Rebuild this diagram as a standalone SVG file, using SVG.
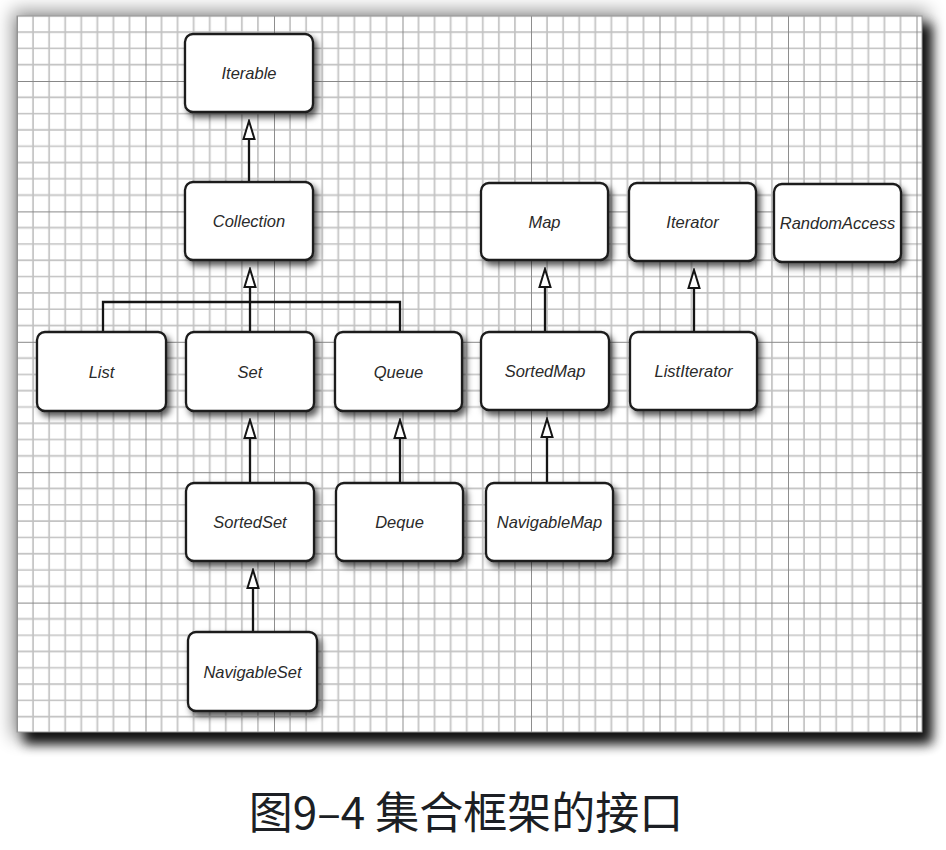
<svg xmlns="http://www.w3.org/2000/svg" width="946" height="850" viewBox="0 0 946 850">
  <defs>
    <style>
      .node rect { fill: #ffffff; stroke: #1a1a1a; stroke-width: 2.3; filter: url(#nodeShadow); }
      .node text { font-family: "Liberation Sans", Arial, sans-serif; font-style: italic; font-size: 16.5px; fill: #2a2a2a; text-anchor: middle; }
      .conn { stroke: #151515; stroke-width: 2.3; fill: none; }
      .arrow { stroke: #151515; stroke-width: 2.3; fill: none; marker-end: url(#hollow); }
      .minor { stroke: #c2c2c2; stroke-width: 1.7; }
      .major { stroke: #888888; stroke-width: 1.9; }
      .caption { font-family: "Noto Sans CJK SC", "Noto Sans", sans-serif; font-size: 44px; fill: #1c1f24; text-anchor: middle; }
    </style>
    <filter id="nodeShadow" x="-20%" y="-20%" width="150%" height="160%">
      <feDropShadow dx="3.5" dy="4.5" stdDeviation="3" flood-color="#000" flood-opacity="0.65"/>
    </filter>
    <filter id="paperBlur" x="-10%" y="-10%" width="120%" height="120%">
      <feGaussianBlur stdDeviation="6"/>
    </filter>
    <filter id="paperHalo" x="-10%" y="-10%" width="120%" height="120%">
      <feGaussianBlur stdDeviation="9"/>
    </filter>
    <pattern id="grid" patternUnits="userSpaceOnUse" x="17" y="81" width="128.5" height="130.4">
      <rect width="128.5" height="130.4" fill="#ffffff"/>
      <g class="minor">
        <line x1="16.06" y1="0" x2="16.06" y2="130.4"/>
        <line x1="32.12" y1="0" x2="32.12" y2="130.4"/>
        <line x1="48.19" y1="0" x2="48.19" y2="130.4"/>
        <line x1="64.25" y1="0" x2="64.25" y2="130.4"/>
        <line x1="80.31" y1="0" x2="80.31" y2="130.4"/>
        <line x1="96.37" y1="0" x2="96.37" y2="130.4"/>
        <line x1="112.44" y1="0" x2="112.44" y2="130.4"/>
        <line x1="0" y1="16.3" x2="128.5" y2="16.3"/>
        <line x1="0" y1="32.6" x2="128.5" y2="32.6"/>
        <line x1="0" y1="48.9" x2="128.5" y2="48.9"/>
        <line x1="0" y1="65.2" x2="128.5" y2="65.2"/>
        <line x1="0" y1="81.5" x2="128.5" y2="81.5"/>
        <line x1="0" y1="97.8" x2="128.5" y2="97.8"/>
        <line x1="0" y1="114.1" x2="128.5" y2="114.1"/>
      </g>
      <g class="major">
        <line x1="0" y1="0" x2="0" y2="130.4"/>
        <line x1="0" y1="0" x2="128.5" y2="0"/>
      </g>
    </pattern>
    <marker id="hollow" viewBox="-2 -8 22 16" markerWidth="22" markerHeight="16" refX="0" refY="0" orient="auto" markerUnits="userSpaceOnUse">
      <path d="M0,-5.5 L18,0 L0,5.5 Z" fill="#ffffff" stroke="#151515" stroke-width="2" stroke-linejoin="miter"/>
    </marker>
  </defs>

  <rect width="946" height="850" fill="#ffffff"/>

  <g id="paper">
    <rect x="12" y="10" width="916" height="728" fill="#000" opacity="0.4" filter="url(#paperHalo)"/>
    <rect x="24" y="24" width="908" height="720" fill="#000" opacity="0.9" filter="url(#paperBlur)"/>
    <rect x="17" y="16" width="905" height="716" fill="url(#grid)"/>
    <rect x="17" y="16" width="905" height="716" fill="none" stroke="#9a9a9a" stroke-width="1"/>
  </g>

  <g id="connectors">
    <line class="arrow" x1="249" y1="182" x2="249" y2="139"/>
    <polyline class="conn" points="103,332 103,302 400,302 400,332"/>
    <line class="arrow" x1="250" y1="332" x2="250" y2="287"/>
    <line class="arrow" x1="545" y1="332" x2="545" y2="287"/>
    <line class="arrow" x1="694" y1="332" x2="694" y2="288"/>
    <line class="arrow" x1="250" y1="483" x2="250" y2="438"/>
    <line class="arrow" x1="400" y1="483" x2="400" y2="438"/>
    <line class="arrow" x1="547" y1="483" x2="547" y2="437"/>
    <line class="arrow" x1="253" y1="632" x2="253" y2="588"/>
  </g>

  <g id="Iterable" class="node"><rect x="185" y="34" width="128" height="78" rx="8"/><text x="249" y="79">Iterable</text></g>
  <g id="Collection" class="node"><rect x="185" y="182" width="128" height="78" rx="8"/><text x="249" y="227">Collection</text></g>
  <g id="Map" class="node"><rect x="481" y="183" width="127" height="77" rx="8"/><text x="544.5" y="227.5">Map</text></g>
  <g id="Iterator" class="node"><rect x="629" y="183" width="127" height="78" rx="8"/><text x="692.5" y="228">Iterator</text></g>
  <g id="RandomAccess" class="node"><rect x="774" y="184" width="127" height="78" rx="8"/><text x="837.5" y="229">RandomAccess</text></g>
  <g id="List" class="node"><rect x="37" y="332" width="129" height="79" rx="8"/><text x="101.5" y="377.5">List</text></g>
  <g id="Set" class="node"><rect x="186" y="332" width="128" height="79" rx="8"/><text x="250" y="377.5">Set</text></g>
  <g id="Queue" class="node"><rect x="335" y="332" width="127" height="79" rx="8"/><text x="398.5" y="377.5">Queue</text></g>
  <g id="SortedMap" class="node"><rect x="481" y="332" width="128" height="78" rx="8"/><text x="545" y="377">SortedMap</text></g>
  <g id="ListIterator" class="node"><rect x="630" y="332" width="127" height="78" rx="8"/><text x="693.5" y="377">ListIterator</text></g>
  <g id="SortedSet" class="node"><rect x="186" y="483" width="128" height="78" rx="8"/><text x="250" y="528">SortedSet</text></g>
  <g id="Deque" class="node"><rect x="336" y="483" width="127" height="78" rx="8"/><text x="399.5" y="528">Deque</text></g>
  <g id="NavigableMap" class="node"><rect x="486" y="483" width="127" height="78" rx="8"/><text x="549.5" y="528">NavigableMap</text></g>
  <g id="NavigableSet" class="node"><rect x="188" y="632" width="129" height="79" rx="8"/><text x="252.5" y="677.5">NavigableSet</text></g>

  <text class="caption" x="466" y="829">图9–4 集合框架的接口</text>
</svg>
